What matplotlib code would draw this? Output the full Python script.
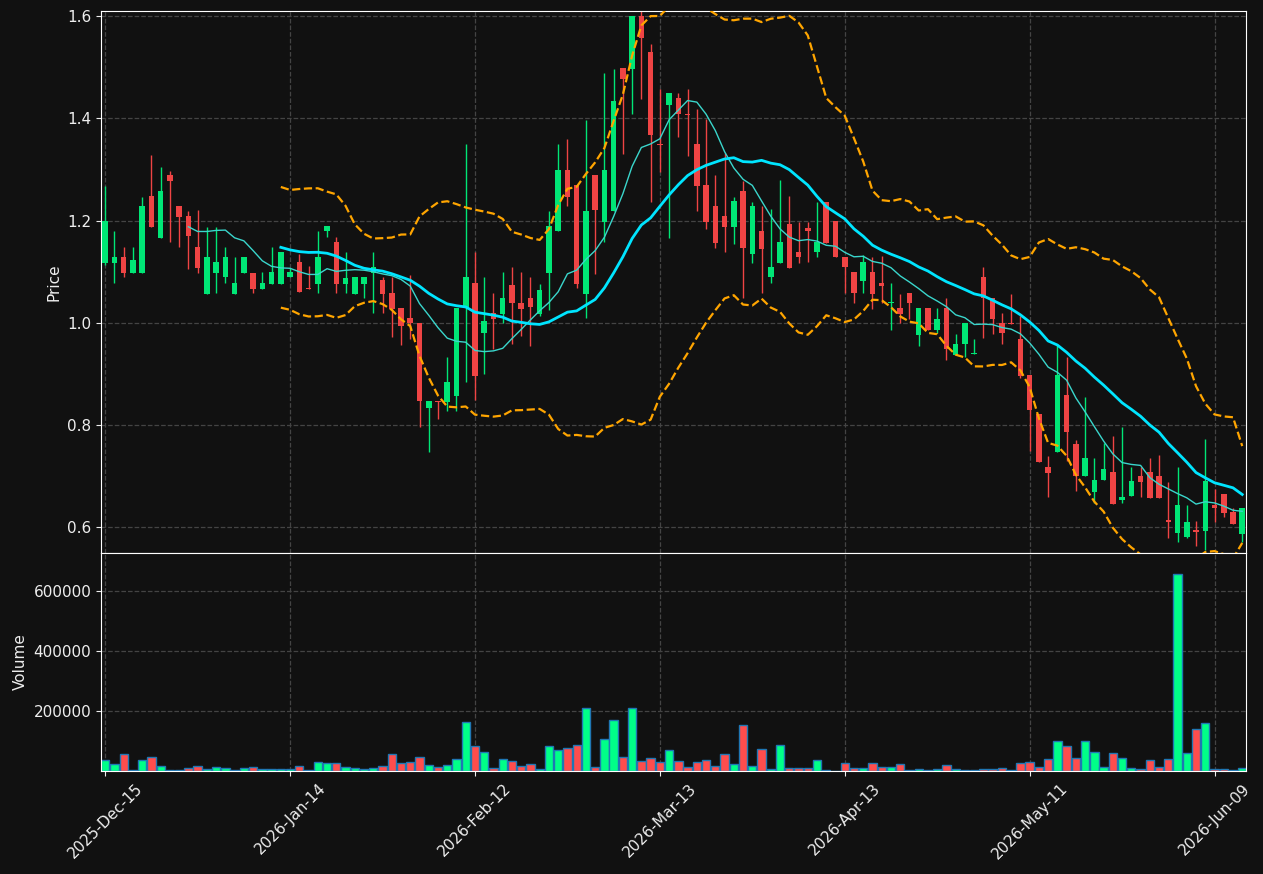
import numpy as np
import pandas as pd
import matplotlib
matplotlib.use("Agg")
import matplotlib.pyplot as plt

# datos OHLC (indice de sesion 0..123)
opens = [1.118, 1.118, 1.129, 1.098, 1.098, 1.248, 1.167, 1.289, 1.229, 1.209,
         1.149, 1.057, 1.098, 1.089, 1.057, 1.098, 1.098, 1.067, 1.077, 1.077,
         1.089, 1.119, 1.069, 1.077, 1.179, 1.158, 1.077, 1.057, 1.077, 1.098,
         1.084, 1.059, 1.029, 1.010, 1.000, 0.834, 0.848, 0.846, 0.857, 1.030,
         1.078, 0.981, 1.019, 1.018, 1.074, 1.039, 1.049, 1.018, 1.098, 1.179,
         1.299, 1.270, 1.057, 1.290, 1.198, 1.218, 1.498, 1.497, 1.600, 1.530,
         1.350, 1.427, 1.440, 1.409, 1.350, 1.270, 1.229, 1.209, 1.188, 1.258,
         1.134, 1.180, 1.089, 1.118, 1.193, 1.139, 1.186, 1.138, 1.237, 1.200,
         1.129, 1.100, 1.081, 1.100, 1.078, 1.038, 1.029, 1.059, 0.977, 1.029,
         0.987, 1.029, 0.938, 0.958, 0.940, 1.090, 1.049, 1.000, 1.000, 0.969,
         0.898, 0.822, 0.718, 0.748, 0.859, 0.763, 0.700, 0.670, 0.692, 0.709,
         0.653, 0.662, 0.701, 0.709, 0.701, 0.614, 0.590, 0.582, 0.594, 0.593,
         0.644, 0.666, 0.630, 0.588]
closes = [1.200, 1.129, 1.098, 1.123, 1.229, 1.188, 1.258, 1.278, 1.208, 1.169,
          1.108, 1.129, 1.119, 1.129, 1.078, 1.129, 1.067, 1.078, 1.100, 1.139,
          1.100, 1.061, 1.067, 1.129, 1.190, 1.077, 1.088, 1.090, 1.090, 1.109,
          1.057, 1.027, 0.993, 0.999, 0.848, 0.848, 0.846, 0.885, 1.029, 1.090,
          0.896, 1.004, 1.008, 1.049, 1.038, 1.028, 1.032, 1.064, 1.190, 1.299,
          1.247, 1.077, 1.219, 1.220, 1.299, 1.434, 1.478, 1.600, 1.558, 1.368,
          1.348, 1.449, 1.408, 1.407, 1.268, 1.198, 1.157, 1.188, 1.239, 1.147,
          1.229, 1.145, 1.109, 1.158, 1.108, 1.128, 1.179, 1.158, 1.157, 1.128,
          1.110, 1.058, 1.119, 1.057, 1.073, 1.041, 1.018, 1.038, 1.029, 0.987,
          1.008, 0.948, 0.959, 1.000, 0.941, 1.048, 1.008, 0.981, 0.998, 0.896,
          0.830, 0.727, 0.707, 0.898, 0.787, 0.701, 0.735, 0.693, 0.715, 0.645,
          0.660, 0.691, 0.688, 0.658, 0.658, 0.610, 0.644, 0.610, 0.592, 0.691,
          0.637, 0.629, 0.607, 0.637]
highs = [1.268, 1.179, 1.148, 1.148, 1.247, 1.328, 1.304, 1.297, 1.229, 1.218,
         1.220, 1.188, 1.188, 1.148, 1.128, 1.129, 1.098, 1.099, 1.148, 1.139,
         1.108, 1.134, 1.112, 1.179, 1.190, 1.168, 1.138, 1.090, 1.090, 1.138,
         1.090, 1.090, 1.029, 1.093, 1.000, 0.848, 0.848, 0.934, 1.029, 1.349,
         1.138, 1.090, 1.058, 1.099, 1.109, 1.099, 1.089, 1.077, 1.218, 1.349,
         1.359, 1.270, 1.397, 1.290, 1.488, 1.497, 1.498, 1.600, 1.610, 1.545,
         1.458, 1.449, 1.449, 1.457, 1.418, 1.398, 1.289, 1.332, 1.246, 1.278,
         1.237, 1.229, 1.222, 1.280, 1.248, 1.198, 1.198, 1.237, 1.237, 1.200,
         1.129, 1.100, 1.133, 1.128, 1.130, 1.078, 1.057, 1.059, 1.029, 1.029,
         1.029, 1.048, 0.978, 1.000, 0.968, 1.109, 1.049, 1.019, 1.057, 1.014,
         0.898, 0.822, 0.739, 0.957, 0.933, 0.771, 0.855, 0.735, 0.765, 0.778,
         0.797, 0.718, 0.719, 0.735, 0.741, 0.688, 0.718, 0.644, 0.613, 0.772,
         0.675, 0.666, 0.637, 0.637]
lows = [1.113, 1.078, 1.089, 1.098, 1.098, 1.188, 1.167, 1.158, 1.148, 1.105,
        1.098, 1.057, 1.058, 1.079, 1.057, 1.098, 1.058, 1.067, 1.077, 1.077,
        1.089, 1.061, 1.067, 1.058, 1.168, 1.058, 1.058, 1.057, 1.048, 1.019,
        1.019, 0.973, 0.956, 0.968, 0.797, 0.747, 0.812, 0.827, 0.827, 0.885,
        0.850, 0.900, 0.949, 0.999, 0.958, 0.974, 0.954, 1.014, 1.025, 1.179,
        1.228, 1.068, 1.009, 1.095, 1.158, 1.218, 1.330, 1.408, 1.438, 1.237,
        1.296, 1.167, 1.363, 1.327, 1.218, 1.183, 1.147, 1.138, 1.154, 1.048,
        1.118, 1.058, 1.078, 1.118, 1.108, 1.118, 1.120, 1.128, 1.157, 1.128,
        1.058, 1.038, 1.059, 1.028, 1.038, 0.987, 0.999, 1.008, 0.954, 0.987,
        0.980, 0.928, 0.938, 0.934, 0.940, 0.970, 0.978, 0.958, 0.998, 0.893,
        0.749, 0.727, 0.660, 0.748, 0.729, 0.672, 0.700, 0.647, 0.692, 0.645,
        0.647, 0.662, 0.659, 0.658, 0.658, 0.579, 0.571, 0.579, 0.563, 0.556,
        0.610, 0.621, 0.607, 0.572]
volumes = [35500, 22000, 55500, 3300, 35500, 45500, 15500, 3000, 3000, 9000,
           15500, 5500, 12000, 9000, 3000, 9000, 12000, 5500, 5500, 5500,
           5500, 15500, 3000, 29000, 25500, 25500, 12000, 9000, 5500, 9000,
           15500, 55500, 25500, 29000, 45500, 19000, 12000, 19000, 39000, 162000,
           82000, 62000, 9000, 39000, 32000, 15500, 22000, 5500, 82000, 69000,
           75500, 85500, 209000, 12000, 105500, 169000, 45500, 209000, 32000, 42000,
           29000, 69000, 32000, 12000, 29000, 35500, 15500, 55500, 22000, 152000,
           15500, 72000, 5500, 85500, 9000, 9000, 9000, 35500, 3000, 1000,
           25500, 9000, 9000, 25500, 12000, 12000, 22000, 3000, 5500, 2000,
           5500, 19000, 5500, 2000, 2000, 5500, 5500, 9000, 2000, 25500,
           29000, 12000, 39000, 99000, 82000, 42000, 99000, 62000, 12000, 59000,
           42000, 9000, 5500, 35500, 12000, 39000, 655000, 59000, 139000, 159000,
           5500, 5500, 2000, 9000]
tick_pos = [0, 20, 40, 60, 80, 100, 120]
tick_labels = ["2025-Dec-15", "2026-Jan-14", "2026-Feb-12", "2026-Mar-13",
               "2026-Apr-13", "2026-May-11", "2026-Jun-09"]

df = pd.DataFrame({"open": opens, "high": highs, "low": lows,
                   "close": closes, "volume": volumes})
x = np.arange(len(df))
ma10 = df["close"].rolling(10).mean()
ma20 = df["close"].rolling(20).mean()
std20 = df["close"].rolling(20).std(ddof=0)
upper = ma20 + 2 * std20
lower = ma20 - 2 * std20

bg = "#111111"
up_c, down_c = "#00e676", "#ef4444"
vup_c, vdown_c = "#00ff88", "#ff4d4d"
txt = "#eeeeee"

fig = plt.figure(figsize=(12.63, 8.74), dpi=100, facecolor=bg)
ax = fig.add_axes([0.080, 0.3673, 0.9065, 0.6201])
axv = fig.add_axes([0.080, 0.1178, 0.9065, 0.2495], sharex=ax)

up = df["close"] >= df["open"]
colors = np.where(up, up_c, down_c)

# velas
ax.vlines(x, df["low"], df["high"], colors=colors, linewidth=1, zorder=2)
body_lo = np.minimum(df["open"], df["close"])
body_h = np.maximum(np.abs(df["close"] - df["open"]), 0.002)
ax.bar(x, body_h, bottom=body_lo, width=0.6, color=colors, zorder=3)

ax.plot(x, ma10, color="#3ad6cc", linewidth=1, zorder=4)
ax.plot(x, ma20, color="#00e5ff", linewidth=2, zorder=4)
ax.plot(x, upper, color="#ffa500", linewidth=1.6, linestyle="--", zorder=4)
ax.plot(x, lower, color="#ffa500", linewidth=1.6, linestyle="--", zorder=4)

ax.set_ylim(0.550, 1.610)
ax.set_xlim(-0.45, 123.4)
ax.set_ylabel("Price", color=txt, fontsize=11)

# volumen
vcolors = np.where(up, vup_c, vdown_c)
axv.bar(x, df["volume"], width=0.9, color=vcolors, edgecolor="#1f77b4",
        linewidth=1)
axv.set_ylim(0, 726000)
axv.set_yticks([200000, 400000, 600000])
axv.set_ylabel("Volume", color=txt, fontsize=11)
axv.set_xticks(tick_pos)
axv.set_xticklabels(tick_labels, rotation=45)

for a in (ax, axv):
    a.set_facecolor(bg)
    a.grid(True, color="#444444", linestyle="--", linewidth=0.9)
    a.set_axisbelow(True)
    a.tick_params(colors=txt, labelsize=11)
    for s in a.spines.values():
        s.set_color("white")
plt.setp(ax.get_xticklabels(), visible=False)

fig.savefig("out.png", facecolor=bg)
